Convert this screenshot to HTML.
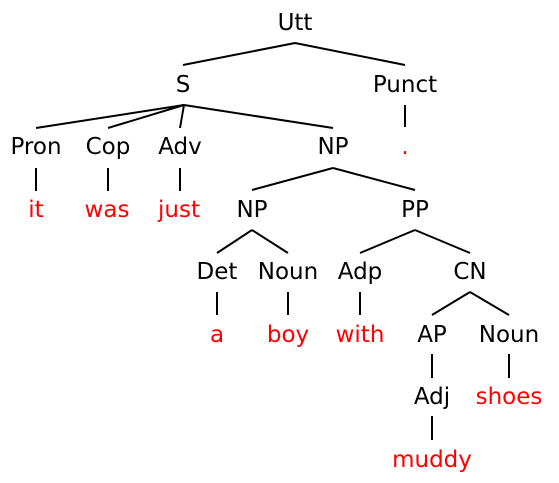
<!DOCTYPE html>
<html><head><style>html,body{margin:0;padding:0;background:#fff}
body{position:relative;width:559px;height:483px;overflow:hidden}
.t{position:absolute;width:140px;margin-left:-70px;margin-top:2px;text-align:center;font-family:"DejaVu Sans","Liberation Sans",sans-serif;font-size:23px;line-height:24px;height:24px;color:#000;white-space:nowrap}
.r{color:#ff0000}</style></head><body>
<svg width="559" height="483" xmlns="http://www.w3.org/2000/svg" style="display:block;position:absolute;left:0;top:0">
<g stroke="#000" stroke-width="2" fill="none">
<path d="M295 43L183 65M295 43L405 65"/>
<path d="M184 105L36 128M184 105L108 128M184 105L180 128M184 105L333 128"/>
<path d="M405 105V127"/>
<path d="M36 168V191M108 168V191M180 168V191"/>
<path d="M333 168L252 190M333 168L415 190"/>
<path d="M252 230L217 253M252 230L288 253M415 230L360 253M415 230L470 253"/>
<path d="M217 292V315M288 292V315M360 292V315"/>
<path d="M470 292L432 315M470 292L509 315"/>
<path d="M432 354V378M509 354V378M432 416V440"/>
</g>
</svg>
<div class="t" style="left:295px;top:9px">Utt</div>
<div class="t" style="left:183px;top:71px">S</div>
<div class="t" style="left:405px;top:71px">Punct</div>
<div class="t" style="left:36px;top:133px">Pron</div>
<div class="t" style="left:108px;top:133px">Cop</div>
<div class="t" style="left:180px;top:133px">Adv</div>
<div class="t" style="left:333px;top:133px">NP</div>
<div class="t r" style="left:405px;top:133px">.</div>
<div class="t r" style="left:36px;top:196px">it</div>
<div class="t r" style="left:107px;top:196px">was</div>
<div class="t r" style="left:179px;top:196px">just</div>
<div class="t" style="left:252px;top:196px">NP</div>
<div class="t" style="left:415px;top:196px">PP</div>
<div class="t" style="left:217px;top:258px">Det</div>
<div class="t" style="left:288px;top:258px">Noun</div>
<div class="t" style="left:360px;top:258px">Adp</div>
<div class="t" style="left:470px;top:258px">CN</div>
<div class="t r" style="left:217px;top:321px">a</div>
<div class="t r" style="left:288px;top:321px">boy</div>
<div class="t r" style="left:360px;top:321px">with</div>
<div class="t" style="left:432px;top:321px">AP</div>
<div class="t" style="left:509px;top:321px">Noun</div>
<div class="t" style="left:432px;top:383px">Adj</div>
<div class="t r" style="left:509px;top:383px">shoes</div>
<div class="t r" style="left:432px;top:446px">muddy</div>
</body></html>
